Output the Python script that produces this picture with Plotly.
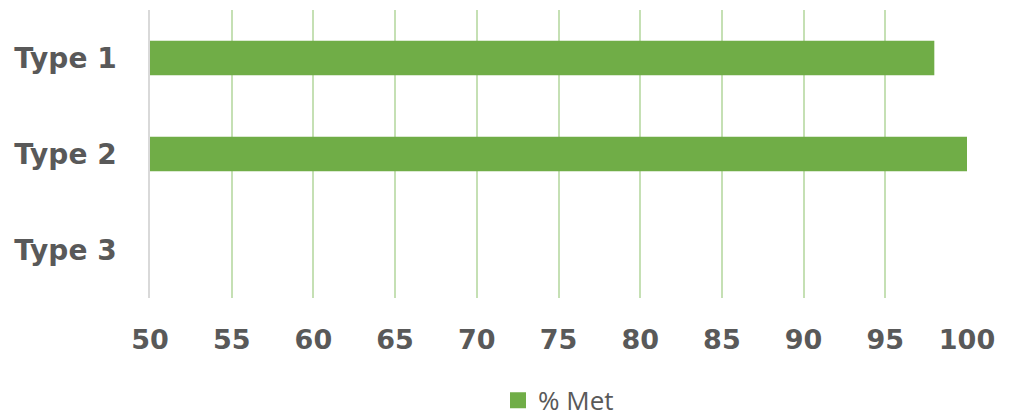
import plotly.graph_objects as go

# Share of requirements met per type
categories = ["Type 1", "Type 2", "Type 3"]
pct_met = [98, 100, None]
x_ticks = [50, 55, 60, 65, 70, 75, 80, 85, 90, 95, 100]

GREEN = "#70AD47"
TEXT = "#595959"

fig = go.Figure()
fig.add_trace(go.Bar(
    y=categories,
    x=pct_met,
    orientation="h",
    name="% Met",
    marker=dict(color=GREEN, line=dict(width=0)),
    width=0.36,
    showlegend=False,
))
# Legend entry with a larger square swatch
fig.add_trace(go.Scatter(
    x=[None], y=[None],
    mode="markers",
    name="% Met",
    marker=dict(symbol="square", size=18, color=GREEN),
    showlegend=True,
))

fig.update_layout(
    width=1009,
    height=417,
    margin=dict(l=150, r=42, t=10, b=119, autoexpand=False),
    plot_bgcolor="white",
    paper_bgcolor="white",
    showlegend=True,
    legend=dict(
        orientation="h",
        x=0.5, xanchor="center",
        yref="container",
        y=0.04, yanchor="middle",
        font=dict(family="Open Sans", size=26, color=TEXT),
        itemwidth=30,
    ),
    xaxis=dict(
        range=[50, 100],
        tickvals=x_ticks,
        showgrid=True,
        gridcolor="#C5E0B4",
        gridwidth=1.5,
        zeroline=False,
        showline=False,
        tickfont=dict(family="DejaVu Sans", size=27, color=TEXT, weight="bold"),
        ticklabelstandoff=23,
        fixedrange=True,
    ),
    yaxis=dict(
        categoryorder="array",
        categoryarray=categories,
        autorange="reversed",
        showgrid=False,
        zeroline=False,
        showline=True,
        linecolor="#D9D9D9",
        linewidth=1.5,
        tickfont=dict(family="DejaVu Sans", size=28, color=TEXT, weight="bold"),
        ticklabelstandoff=26,
        fixedrange=True,
    ),
)

fig.write_html("out.html")
